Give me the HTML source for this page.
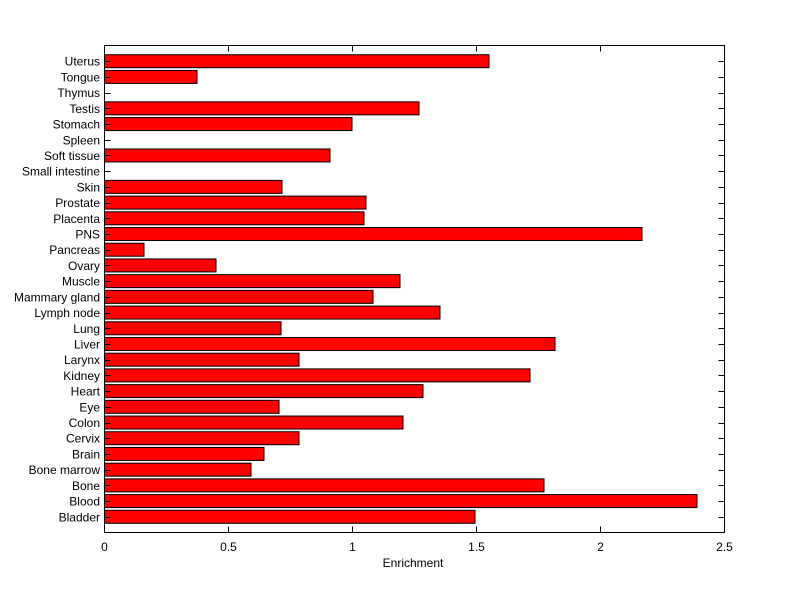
<!DOCTYPE html>
<html><head><meta charset="utf-8"><style>body{margin:0;background:#fff}svg{display:block}</style></head>
<body>
<svg width="800" height="599" xmlns="http://www.w3.org/2000/svg" font-family="Liberation Sans, sans-serif" font-size="12">
<rect width="800" height="599" fill="#fff"/>
<g id="bars" fill="#ff0000" stroke="#000" stroke-width="1"></g>
<g id="lab" text-anchor="end" fill="#000"></g>
<g id="ax" stroke="#000" stroke-width="1" fill="none"></g>
<g id="xl" text-anchor="middle" fill="#000"></g>
<text x="413" y="567" text-anchor="middle">Enrichment</text>
<script>
(function(){
var names=["Bladder","Blood","Bone","Bone marrow","Brain","Cervix","Colon","Eye","Heart","Kidney","Larynx","Liver","Lung","Lymph node","Mammary gland","Muscle","Ovary","Pancreas","PNS","Placenta","Prostate","Skin","Small intestine","Soft tissue","Spleen","Stomach","Testis","Thymus","Tongue","Uterus"];
var ends=[475,697,544,251,264,299,403,279,423,530,299,555,281,440,373,400,216,144,642,364,366,282,0,330,0,352,419,0,197,489];
var ns="http://www.w3.org/2000/svg";
function el(p,t,a,txt){var e=document.createElementNS(ns,t);for(var k in a)e.setAttribute(k,a[k]);if(txt!==undefined)e.textContent=txt;document.getElementById(p).appendChild(e);}
var x0=104.5,yT=45.5,yB=532.5,u=(yB-yT)/31;
for(var i=0;i<30;i++){var c=yB-(i+1)*u;
 if(ends[i]>0)el("bars","rect",{x:x0,y:c-6.5,width:ends[i]-x0,height:13});
 el("lab","text",{x:100,y:c+4.5},names[i]);
 var cy=Math.round(c)+0.5;
 el("ax","line",{x1:x0,y1:cy,x2:x0+6,y2:cy});
 el("ax","line",{x1:724.5-6,y1:cy,x2:724.5,y2:cy});}
el("ax","rect",{x:x0,y:yT,width:620,height:yB-yT});
var tl=["0","0.5","1","1.5","2","2.5"];
for(var j=0;j<=5;j++){var x=Math.round(104+j*124)+0.5;
 el("ax","line",{x1:x,y1:yB,x2:x,y2:yB-6});
 el("ax","line",{x1:x,y1:yT,x2:x,y2:yT+6});
 el("xl","text",{x:x,y:551},tl[j]);}
})();
</script>
</svg>
</body></html>
